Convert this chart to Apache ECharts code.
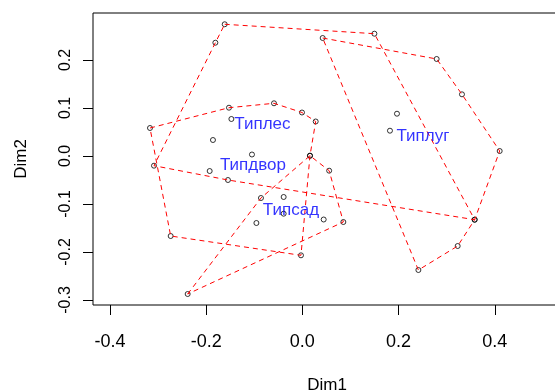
<!DOCTYPE html>
<html>
<head>
<meta charset="utf-8">
<script src="https://cdn.jsdelivr.net/npm/echarts@6/dist/echarts.min.js"></script>
<style>
html,body{margin:0;padding:0;background:#fff;}
#main{width:555px;height:392px;}
</style>
</head>
<body>
<div id="main"></div>
<script>
var xTicks=[-0.4,-0.2,0.0,0.2,0.4];
var yTicks=[-0.3,-0.2,-0.1,0.0,0.1,0.2];

// hull corners of each type, in drawing order
var hullLes=[[-0.1615,0.2744],[0.1497,0.2548],[0.3582,-0.1327],[-0.1547,-0.0500],[-0.3085,-0.0202],[-0.1809,0.2360]];
var hullLug=[[0.0422,0.2458],[0.2792,0.2021],[0.3318,0.1285],[0.4102,0.0104],[0.3582,-0.1327],[0.3229,-0.1875],[0.2412,-0.2375]];
var hullDvor=[[-0.3168,0.0583],[-0.1526,0.1006],[-0.0590,0.1098],[-0.0008,0.0906],[0.0277,0.0719],[0.0158,0.0006],[-0.0029,-0.2069],[-0.2738,-0.1667]];
var hullSad=[[-0.2385,-0.2875],[-0.0861,-0.0875],[0.0158,0.0006],[0.0557,-0.0306],[0.0852,-0.1375]];
// sites inside the hulls
var innerLes=[[-0.1476,0.0771],[-0.1859,0.0333]];
var innerLug=[[0.1967,0.0881],[0.1821,0.0527]];
var innerDvor=[[-0.1048,0.0031],[-0.1927,-0.0313]];
var innerSad=[[-0.0389,-0.0854],[-0.0389,-0.1202],[-0.0956,-0.1396],[0.0443,-0.1323]];

var groupNames=['Типлес','Типлуг','Типдвор','Типсад'];
var labelPos=[[-0.0831,0.0663],[0.2507,0.0417],[-0.1029,-0.0202],[-0.0237,-0.1125]];

var chart=echarts.init(document.getElementById('main'));

var hulls=[hullLes,hullLug,hullDvor,hullSad];
var points=[].concat(hullLes,hullLug,hullDvor,hullSad,innerLes,innerLug,innerDvor,innerSad);
var font='Liberation Sans, Arial, sans-serif';

var series=[{
    type:'scatter',
    data:points,
    symbol:'circle',
    symbolSize:5,
    itemStyle:{color:'rgba(0,0,0,0)',borderColor:'#000',borderWidth:1},
    silent:true,
    z:2
}];
hulls.forEach(function(h){
    series.push({
        type:'line',
        data:h.concat([h[0]]),
        symbol:'none',
        lineStyle:{color:'#ff0000',width:1,type:[5,4]},
        silent:true,
        z:3
    });
});
series.push({
    type:'scatter',
    data:labelPos.map(function(p,i){return {value:p,name:groupNames[i]};}),
    symbolSize:0,
    label:{
        show:true,
        position:'inside',
        formatter:function(p){return p.name;},
        color:'#0000ff',
        fontSize:17,
        fontFamily:font
    },
    silent:true,
    z:4
});

var option={
    animation:false,
    grid:{left:93,top:13,width:468,height:292,show:true,borderColor:'#000',borderWidth:1,
        backgroundColor:'transparent',outerBoundsMode:'none',containLabel:false},
    xAxis:{
        type:'value',
        min:-0.4353,
        max:0.5377,
        name:'Dim1',
        nameLocation:'middle',
        nameGap:72,
        nameTextStyle:{color:'#000',fontSize:17,fontFamily:font},
        axisLine:{show:false,onZero:false},
        splitLine:{show:false},
        axisTick:{show:true,length:10,customValues:xTicks,lineStyle:{color:'#000'}},
        axisLabel:{customValues:xTicks,margin:28,color:'#000',fontSize:18,fontFamily:font,
            formatter:function(v){return v.toFixed(1);}}
    },
    yAxis:{
        type:'value',
        min:-0.3104,
        max:0.2979,
        name:'Dim2',
        nameLocation:'middle',
        nameGap:63,
        nameRotate:90,
        nameTextStyle:{color:'#000',fontSize:17,fontFamily:font},
        axisLine:{show:false,onZero:false},
        splitLine:{show:false},
        axisTick:{show:true,length:10,customValues:yTicks,lineStyle:{color:'#000'}},
        axisLabel:{customValues:yTicks,margin:19,rotate:90,color:'#000',fontSize:16,fontFamily:font,
            formatter:function(v){return v.toFixed(1);}}
    },
    series:series
};
chart.setOption(option);
</script>
</body>
</html>
